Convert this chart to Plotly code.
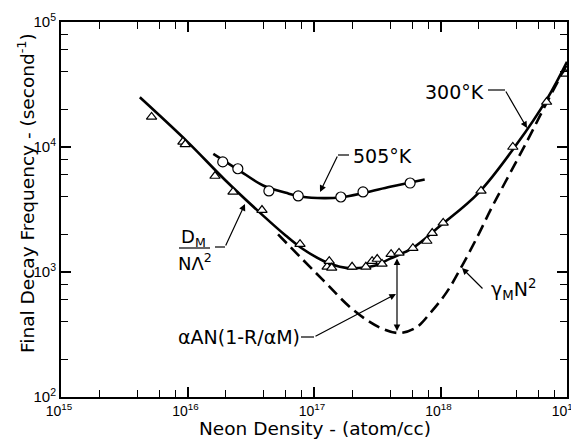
import plotly.graph_objects as go

# measured points, 300 K (triangles)
n300 = [5.2e15, 9.2e15, 9.6e15, 1.65e16, 2.29e16, 3.88e16, 7.75e16, 1.27e17, 1.32e17, 1.38e17,
        2.0e17, 2.57e17, 2.88e17, 3.16e17, 3.45e17, 4.07e17, 4.7e17, 6.05e17, 7.8e17, 8.6e17,
        1.05e18, 2.09e18, 3.73e18, 6.9e18, 9.8e18]
f300 = [1.74e4, 1.1e4, 1.05e4, 5.86e3, 4.37e3, 3.13e3, 1.67e3, 1.1e3, 1.22e3, 1.08e3,
        1.1e3, 1.1e3, 1.22e3, 1.27e3, 1.16e3, 1.39e3, 1.42e3, 1.55e3, 1.77e3, 2.05e3,
        2.47e3, 4.45e3, 1.0e4, 2.29e4, 3.84e4]

# measured points, 505 K (circles)
n505 = [1.9e16, 2.5e16, 4.4e16, 7.5e16, 1.63e17, 2.44e17, 5.75e17]
f505 = [7.6e3, 6.7e3, 4.45e3, 4.06e3, 3.98e3, 4.37e3, 5.15e3]

# fitted curves
curve300_n = [4.2e15, 1e16, 2e16, 4e16, 6e16, 8e16, 1.2e17, 1.6e17, 2e17, 3e17, 4e17, 6e17,
              1e18, 2e18, 4e18, 7e18, 1e19]
curve300_f = [2.5e4, 1.1e4, 5.4e3, 2.8e3, 1.95e3, 1.55e3, 1.22e3, 1.1e3, 1.07e3, 1.12e3, 1.28e3, 1.55e3,
              2.35e3, 4.3e3, 1.05e4, 2.45e4, 4.8e4]
curve505_n = [1.6e16, 2.5e16, 4e16, 6e16, 8e16, 1.2e17, 1.6e17, 2.5e17, 4e17, 7.5e17]
curve505_f = [8.8e3, 6.6e3, 4.9e3, 4.3e3, 4.0e3, 3.9e3, 3.95e3, 4.3e3, 4.8e3, 5.5e3]

# dashed: D_M/(N Lambda^2) + gamma_M N^2
dash_n = [5.2e16, 1.18e17, 2.03e17, 3.3e17, 4.7e17, 6.5e17, 8.3e17, 1.12e18, 1.48e18, 1.95e18,
          2.55e18, 3.24e18, 4.8e18, 6.9e18, 1e19]
dash_f = [2.0e3, 8.6e2, 5.0e2, 3.6e2, 3.25e2, 3.63e2, 4.7e2, 6.9e2, 1.12e3, 1.9e3,
          3.3e3, 5.2e3, 1.1e4, 2.25e4, 4.6e4]

x_tickvals = [1e15, 1e16, 1e17, 1e18, 1e19]
x_ticktext = ["10<sup>15</sup>", "10<sup>16</sup>", "10<sup>17</sup>", "10<sup>18</sup>", "10<sup>19</sup>"]
y_tickvals = [1e2, 1e3, 1e4, 1e5]
y_ticktext = ["10<sup>2</sup>", "10<sup>3</sup>", "10<sup>4</sup>", "10<sup>5</sup>"]

FONT = "DejaVu Sans"
TICKFONT = "Liberation Sans"

fig = go.Figure()
fig.add_trace(go.Scatter(x=curve300_n, y=curve300_f, mode="lines", line=dict(color="black", width=2.6, shape="spline")))
fig.add_trace(go.Scatter(x=curve505_n, y=curve505_f, mode="lines", line=dict(color="black", width=2.6, shape="spline")))
fig.add_trace(go.Scatter(x=dash_n, y=dash_f, mode="lines",
                         line=dict(color="black", width=2.6, shape="spline", dash="12px,6px")))
fig.add_trace(go.Scatter(x=n300, y=f300, mode="markers",
                         marker=dict(symbol="triangle-up", size=9, color="white", line=dict(color="black", width=1.2))))
fig.add_trace(go.Scatter(x=n505, y=f505, mode="markers",
                         marker=dict(symbol="circle", size=10, color="white", line=dict(color="black", width=1.2))))
# empty trace so the top / right tick axes are drawn
fig.add_trace(go.Scatter(x=[None], y=[None], xaxis="x2", yaxis="y2", hoverinfo="skip"))

minor_x = [m * 10 ** e for e in range(15, 19) for m in (2, 4, 6, 8)]
minor_y = [m * 10 ** e for e in range(2, 5) for m in (2, 4, 6, 8)]

tick_style = dict(ticks="inside", ticklen=10, tickwidth=1.5, tickcolor="black", showgrid=False, zeroline=False)
minor_x_style = dict(tickvals=minor_x, ticks="inside", ticklen=7, tickwidth=1.2, tickcolor="black", showgrid=False)
minor_y_style = dict(tickvals=minor_y, ticks="inside", ticklen=7, tickwidth=1.2, tickcolor="black", showgrid=False)

fig.update_layout(
    xaxis=dict(type="log", range=[15, 19], tickvals=x_tickvals, ticktext=x_ticktext, automargin=False,
               showline=True, linecolor="black", linewidth=2, mirror=True, minor=minor_x_style,
               ticklabelshift=-2, tickfont=dict(size=14, color="black", family=TICKFONT), **tick_style),
    yaxis=dict(type="log", range=[2, 5], tickvals=y_tickvals, ticktext=y_ticktext, automargin=False,
               showline=True, linecolor="black", linewidth=2, mirror=True, minor=minor_y_style,
               tickfont=dict(size=15, color="black", family=TICKFONT), **tick_style),
    xaxis2=dict(type="log", range=[15, 19], tickvals=x_tickvals, overlaying="x", side="top", anchor="y2",
                showticklabels=False, automargin=False, minor=minor_x_style, **tick_style),
    yaxis2=dict(type="log", range=[2, 5], tickvals=y_tickvals, overlaying="y", side="right", anchor="x2",
                showticklabels=False, automargin=False, minor=minor_y_style, **tick_style),
)


def px(x, y):
    # pixel position on the 579x440 page -> paper coordinates
    return (x - 61) / 506, (397 - y) / 375


ann = []
shapes = []


def label(text, x, y, size=19, angle=0):
    xp, yp = px(x, y)
    ann.append(dict(text=text, x=xp, y=yp, xref="paper", yref="paper", showarrow=False,
                    xanchor="center", yanchor="middle", textangle=angle,
                    font=dict(size=size, color="black", family=FONT)))


def arrow(tipx, tipy, fromx, fromy, side="end"):
    xp, yp = px(tipx, tipy)
    ann.append(dict(text="", x=xp, y=yp, xref="paper", yref="paper", showarrow=True,
                    ax=fromx - tipx, ay=fromy - tipy, arrowhead=2, arrowsize=1.1, arrowwidth=1.2,
                    arrowcolor="black", arrowside=side))


def seg(x0, y0, x1, y1):
    a, b = px(x0, y0)
    c, d = px(x1, y1)
    shapes.append(dict(type="line", xref="paper", yref="paper", x0=a, y0=b, x1=c, y1=d,
                       line=dict(color="black", width=1.2)))


# axis titles
label("Neon Density - (atom/cc)", 315, 428.5, 18.5)
label("Final Decay Frequency - (second<sup>-1</sup>)", 26, 193, 18.5, angle=-90)

label("505°K", 382, 156)
seg(338, 155, 349, 155)
arrow(320, 192, 338, 155)

label("300°K", 454, 92)
seg(488, 90, 505, 90)
arrow(527, 128, 505, 90)

label("D<sub>M</sub>", 193, 238, 18)
label("NΛ<sup>2</sup>", 195, 262, 18)
seg(179, 248, 210, 248)
seg(215, 247, 225, 247)
arrow(245, 204, 225, 247)

label("αAN(1-R/αM)", 239, 337)
seg(301, 337, 314, 337)
arrow(396, 294, 314, 337)

arrow(397, 331, 397, 257, side="end+start")

label("γ<sub>M</sub>N<sup>2</sup>", 513, 289)
arrow(462, 268, 484, 290)

# the page body adds an 8px offset, so the margins are shifted to keep the box in place
fig.update_layout(width=579, height=440, margin=dict(l=53, r=20, t=14, b=51),
                  plot_bgcolor="white", paper_bgcolor="white", showlegend=False,
                  annotations=ann, shapes=shapes)

fig.write_html("out.html")
